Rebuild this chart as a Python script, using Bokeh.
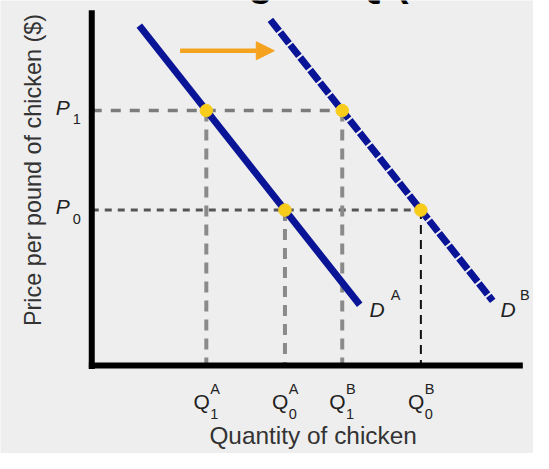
from bokeh.plotting import figure
from bokeh.models import Range1d, Arrow, NormalHead
from bokeh.core.properties import value
from bokeh.embed import file_html
from bokeh.resources import INLINE

# ---------------- data ----------------
price_names = ["P1", "P0"]
prices = [26.4, 16.1]                      # P1, P0
qty_names = ["Q1A", "Q0A", "Q1B", "Q0B"]
quantities = [11.8, 19.9, 25.8, 33.9]       # Q1A, Q0A, Q1B, Q0B
qty_prices = [26.4, 16.1, 26.4, 16.1]       # price belonging to each quantity
demand_A_q = [4.9, 27.6]
demand_A_p = [35.2, 6.3]
demand_B_q = [18.4, 41.3]
demand_B_p = [35.8, 6.7]
q_main = ["Q", "Q", "Q", "Q"]
q_sup = ["A", "A", "B", "B"]
q_sub = ["1", "0", "1", "0"]
p_main = ["P", "P"]
p_sub = ["1", "0"]
x_title = "Quantity of chicken"
y_title = "Price per pound of chicken ($)"
title_text = "Change in Q (Demand Shift)"

FONT = value("Liberation Sans")
NAVY = "#0a1496"
ORANGE = "#f5a21f"
YELLOW = "#f8cc1b"
BG = "#eeeeee"

Y0, Y1 = -9.1, 37.8
H = 453
PXU = H / (Y1 - Y0)          # pixels per y unit


def base(fs):
    """lift that puts the alphabetic baseline where intended"""
    return 0.35 * fs / PXU


p = figure(width=533, height=H, output_backend="svg", toolbar_location=None,
           x_range=Range1d(-9.4, 45.5), y_range=Range1d(Y0, Y1),
           min_border=0, x_axis_type=None, y_axis_type=None)
p.grid.visible = False
p.outline_line_color = None
p.background_fill_color = BG
p.border_fill_color = BG

# clipped title fragment at the very top
TF = 40
p.text(x=[5.84], y=[38.25 + base(TF)], text=[title_text], text_font=FONT,
       text_font_size=f"{TF}px", text_font_style="bold", text_color="#000000",
       text_align="left", text_baseline="alphabetic")

# horizontal dashed guides (axis -> furthest quantity at that price)
p1_end = max(q for q, pr in zip(quantities, qty_prices) if pr == prices[0])
p0_end = max(q for q, pr in zip(quantities, qty_prices) if pr == prices[1])
p.segment(x0=[0], y0=[prices[0]], x1=[p1_end], y1=[prices[0]],
          line_color="#7c7c7c", line_width=3.5, line_dash="10 9")
p.segment(x0=[0], y0=[prices[1]], x1=[p0_end], y1=[prices[1]],
          line_color="#555555", line_width=3, line_dash="7 6")

# vertical dashed guides
p.segment(x0=quantities[:3], y0=qty_prices[:3], x1=quantities[:3], y1=[0, 0, 0],
          line_color="#8a8a8a", line_width=4, line_dash="11 8")
p.segment(x0=quantities[3:], y0=qty_prices[3:], x1=quantities[3:], y1=[0],
          line_color="#111111", line_width=2, line_dash="9 6")

# demand curves
p.line(demand_A_q, demand_A_p, line_color=NAVY, line_width=7)
p.line(demand_B_q, demand_B_p, line_color=NAVY, line_width=7, line_dash="14 2")

# equilibrium points
p.scatter(quantities, qty_prices, size=12.5, fill_color=YELLOW, line_color=YELLOW)

# axes (drawn as thick lines)
p.segment(x0=[0], y0=[-0.35], x1=[0], y1=[36.8], line_color="#000000", line_width=6)
p.segment(x0=[-0.3], y0=[0], x1=[44.4], y1=[0], line_color="#000000", line_width=6)

# shift arrow
p.add_layout(Arrow(end=NormalHead(size=18, fill_color=ORANGE, line_color=ORANGE),
                   x_start=9.1, y_start=32.6, x_end=18.8, y_end=32.6,
                   line_color=ORANGE, line_width=4.5))

MF, SF = 21, 14.5
# quantity labels
p.text(x=[q + 0.35 for q in quantities], y=[-4.5 + base(MF)] * 4, text=q_main,
       text_font=FONT, text_font_size=f"{MF}px", text_color="#222222",
       text_align="right", text_baseline="alphabetic")
p.text(x=[q + 0.4 for q in quantities], y=[-2.9 + base(SF)] * 4, text=q_sup,
       text_font=FONT, text_font_size=f"{SF}px", text_color="#222222",
       text_align="left", text_baseline="alphabetic")
p.text(x=[q + 0.4 for q in quantities], y=[-5.5 + base(SF)] * 4, text=q_sub,
       text_font=FONT, text_font_size=f"{SF}px", text_color="#222222",
       text_align="left", text_baseline="alphabetic")

# price labels
p.text(x=[-3.7] * 2, y=[pr - 0.4 + base(MF) for pr in prices], text=p_main,
       text_font=FONT, text_font_size=f"{MF}px", text_font_style="italic",
       text_color="#222222", text_align="left", text_baseline="alphabetic")
p.text(x=[-1.95] * 2, y=[pr - 1.4 + base(SF) for pr in prices], text=p_sub,
       text_font=FONT, text_font_size=f"{SF}px", text_color="#222222",
       text_align="left", text_baseline="alphabetic")

# demand curve labels
p.text(x=[demand_A_q[-1] + 1.0, demand_B_q[-1] + 0.8],
       y=[demand_A_p[-1] - 1.3 + base(MF), demand_B_p[-1] - 1.7 + base(MF)],
       text=["D", "D"], text_font=FONT, text_font_size=f"{MF}px",
       text_font_style="italic", text_color="#222222", text_align="left",
       text_baseline="alphabetic")
p.text(x=[demand_A_q[-1] + 3.2, demand_B_q[-1] + 2.8],
       y=[demand_A_p[-1] + 0.5 + base(SF), demand_B_p[-1] + 0.1 + base(SF)],
       text=["A", "B"], text_font=FONT, text_font_size=f"{SF}px",
       text_color="#222222", text_align="left", text_baseline="alphabetic")

# axis titles
XF = 24.4
p.text(x=[22.8], y=[-8.16 + base(XF)], text=[x_title], text_font=FONT,
       text_font_size=f"{XF}px", text_color="#333333", text_align="center",
       text_baseline="alphabetic")
p.text(x=[-6.1], y=[20.25], text=[y_title], text_font=FONT, text_font_size="23.4px",
       text_color="#333333", text_align="center", text_baseline="middle",
       angle=1.5708)

open("out.html", "w").write(file_html(p, INLINE))
